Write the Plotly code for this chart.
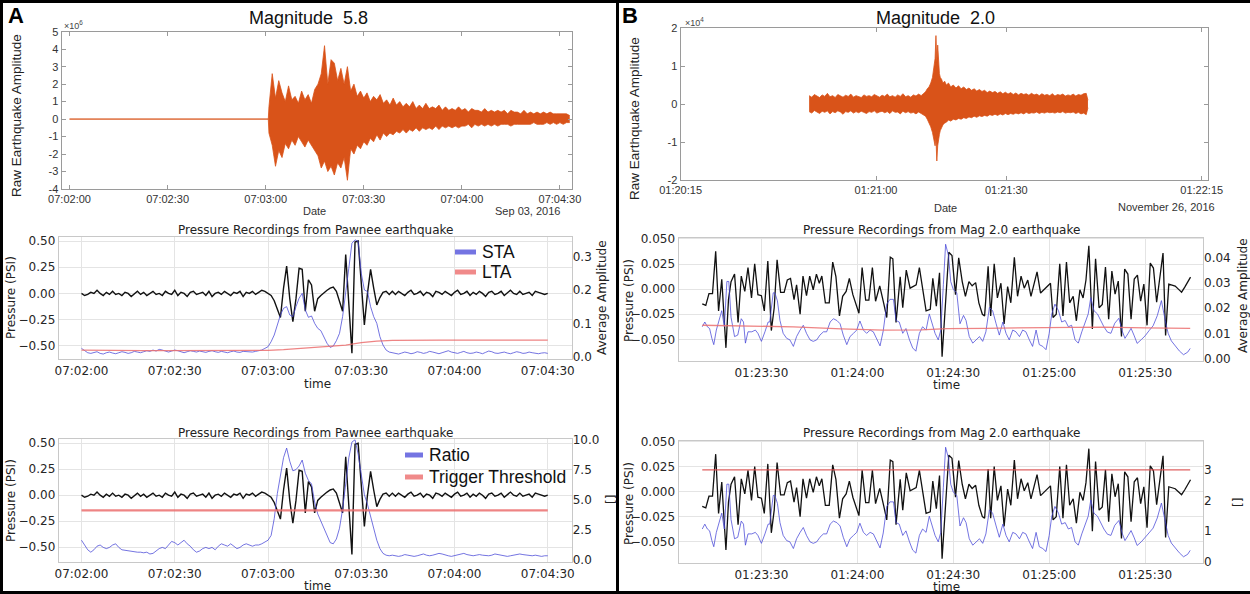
import pandas as pd
import plotly.graph_objects as go

W, H = 1250, 594
def X(px): return px / W
def Y(py): return 1 - py / H

A0 = pd.Timestamp('2016-09-03 07:02:00')
B0 = pd.Timestamp('2016-11-26 01:20:15')
B1 = pd.Timestamp('2016-11-26 01:23:00')

def at(base, secs):
    return [base + pd.Timedelta(seconds=float(s)) for s in secs]

def ds(base, s):
    t = base + pd.Timedelta(seconds=float(s))
    return f"{t:%Y-%m-%d %H:%M:%S}.{t.microsecond // 1000:03d}"

# ---------------- Panel A : Magnitude 5.8 ----------------
# raw seismogram: positive / negative swing per second (x1e6), seconds after 07:02:00
seis_a_sec = [0, 60.8] + list(range(61, 154))
seis_a_up = [0.0, 0.0,
    0.7, 2.6, 1.2, 2.2, 1.5, 1.0, 1.9, 1.1, 1.3, 0.9,
    1.6, 1.1, 1.4, 0.9, 1.7, 2.0, 2.6, 4.2, 2.0, 3.4,
    3.2, 2.2, 2.9, 2.0, 3.0, 1.6, 2.0, 1.3, 1.6, 1.2,
    1.5, 1.0, 1.3, 1.1, 1.4, 0.9, 1.1, 0.8, 1.2, 0.8,
    1.0, 0.7, 0.9, 0.7, 1.0, 0.6, 0.8, 0.6, 0.9, 0.6,
    0.7, 0.6, 0.8, 0.5, 0.7, 0.5, 0.6, 0.5, 0.7, 0.5,
    0.6, 0.4, 0.6, 0.5, 0.5, 0.4, 0.6, 0.4, 0.5, 0.4,
    0.5, 0.4, 0.5, 0.3, 0.5, 0.4, 0.4, 0.3, 0.5, 0.3,
    0.4, 0.3, 0.4, 0.3, 0.4, 0.3, 0.4, 0.3, 0.3, 0.3,
    0.3, 0.3, 0.2]
seis_a_lo = [0.0, 0.0,
    -0.8, -1.5, -2.7, -1.8, -2.2, -1.4, -1.7, -1.2, -1.5, -1.0,
    -1.3, -1.6, -1.2, -1.5, -1.8, -2.1, -2.8, -2.4, -3.0, -2.7,
    -3.2, -2.5, -2.8, -2.2, -3.5, -1.7, -2.0, -1.5, -1.7, -1.3,
    -1.5, -1.1, -1.3, -0.9, -1.2, -0.8, -1.0, -0.8, -0.9, -0.7,
    -0.8, -0.6, -0.8, -0.6, -0.7, -0.5, -0.7, -0.5, -0.6, -0.5,
    -0.6, -0.4, -0.6, -0.4, -0.5, -0.4, -0.5, -0.4, -0.5, -0.4,
    -0.4, -0.3, -0.5, -0.3, -0.4, -0.3, -0.4, -0.3, -0.4, -0.3,
    -0.4, -0.3, -0.3, -0.3, -0.4, -0.3, -0.3, -0.3, -0.3, -0.3,
    -0.3, -0.2, -0.3, -0.3, -0.3, -0.2, -0.3, -0.2, -0.3, -0.2,
    -0.3, -0.2, -0.2]

# pressure (PSI), one sample per second from 07:02:00
press_a = [
    0.00, -0.02, -0.01, 0.01, 0.00, 0.03, 0.00, -0.02, 0.01, -0.01,
    0.02, -0.01, 0.00, -0.02, 0.01, 0.00, -0.03, 0.00, 0.02, -0.01,
    0.01, -0.02, 0.00, 0.02, -0.01, 0.00, -0.02, 0.02, 0.00, -0.01,
    0.03, -0.02, 0.01, 0.00, -0.03, 0.01, 0.02, -0.01, 0.00, 0.01,
    -0.02, 0.02, -0.03, 0.00, 0.01, -0.01, 0.02, 0.00, -0.02, 0.01,
    0.00, 0.02, -0.03, 0.01, 0.00, 0.02, -0.01, 0.01, 0.03, 0.02,
    0.00,
    -0.02, -0.07, -0.15, -0.23, 0.05, 0.26, -0.05, -0.27, -0.05, 0.24,
    0.23, -0.17, 0.13, 0.08, -0.17, -0.05, -0.02, 0.01, 0.03, 0.05,
    0.06, 0.02, -0.08, -0.17, 0.37, -0.10, -0.57, 0.49, 0.50, 0.10,
    -0.30, 0.00, 0.23, 0.05, -0.11, -0.04, 0.01, 0.02, -0.01, 0.02,
    -0.01, 0.02, 0.00, -0.02, 0.01, 0.03, -0.01, 0.00, 0.02, -0.02,
    0.01, 0.00, -0.03, 0.02, 0.01, -0.01, 0.02, 0.00, -0.02, 0.01,
    0.03, -0.01, 0.00, 0.02, -0.02, 0.01, -0.01, 0.02, 0.00, -0.03,
    0.01, 0.02, -0.01, 0.00, 0.02, -0.02, 0.01, 0.03, 0.00, -0.01,
    0.02, -0.01, 0.00, 0.01, -0.02, 0.02, 0.01, 0.00, -0.01, 0.00]

sta_a = [
    0.025, 0.018, 0.012, 0.010, 0.012, 0.015, 0.010, 0.008, 0.012, 0.014,
    0.011, 0.009, 0.012, 0.015, 0.013, 0.010, 0.012, 0.016, 0.014, 0.012,
    0.015, 0.018, 0.016, 0.020, 0.017, 0.022, 0.020, 0.016, 0.014, 0.017,
    0.020, 0.018, 0.014, 0.012, 0.015, 0.018, 0.016, 0.014, 0.017, 0.015,
    0.013, 0.016, 0.018, 0.015, 0.013, 0.016, 0.014, 0.012, 0.015, 0.017,
    0.014, 0.013, 0.016, 0.015, 0.013, 0.014, 0.016, 0.018, 0.020, 0.025,
    0.030, 0.045, 0.065, 0.095, 0.125, 0.145, 0.150, 0.125, 0.120, 0.150,
    0.175, 0.190, 0.140, 0.118, 0.122, 0.100, 0.085, 0.078, 0.060, 0.040,
    0.028, 0.032, 0.048, 0.070, 0.120, 0.200, 0.265, 0.340, 0.350, 0.345,
    0.250, 0.200, 0.195, 0.150, 0.120, 0.100, 0.060, 0.035, 0.020, 0.014,
    0.012,
    0.010, 0.008, 0.011, 0.014, 0.012, 0.009, 0.011, 0.015, 0.013, 0.010,
    0.012, 0.016, 0.014, 0.011, 0.009, 0.012, 0.015, 0.018, 0.014, 0.011,
    0.010, 0.013, 0.016, 0.012, 0.010, 0.011, 0.014, 0.012, 0.009, 0.013,
    0.017, 0.015, 0.011, 0.010, 0.012, 0.014, 0.011, 0.009, 0.012, 0.015,
    0.013, 0.010, 0.011, 0.014, 0.012, 0.010, 0.009, 0.011, 0.012, 0.010]

lta_a_sec = [0, 5, 10, 15, 20, 25, 30, 35, 40, 45, 50, 55, 60, 65, 70, 75, 80,
             85, 90, 95, 100, 105, 110, 115, 120, 125, 130, 135, 140, 145, 150]
lta_a = [0.020, 0.019, 0.018, 0.018, 0.018, 0.018, 0.018, 0.018, 0.018, 0.018,
         0.018, 0.018, 0.019, 0.021, 0.024, 0.027, 0.030, 0.035, 0.042, 0.047,
         0.049, 0.050, 0.050, 0.050, 0.050, 0.050, 0.050, 0.050, 0.050, 0.050, 0.050]

ratio_a = [
    1.6, 1.2, 0.8, 0.6, 0.8, 1.1, 1.2, 1.0, 0.9, 1.0,
    1.2, 1.3, 1.0, 0.8, 0.75, 0.7, 0.65, 0.6, 0.6, 0.6,
    0.55, 0.6, 0.45, 0.5, 0.7, 0.9, 1.0, 0.9, 1.2, 1.5,
    1.4, 1.2, 1.4, 1.6, 1.3, 1.1, 0.8, 0.6, 0.7, 0.9,
    1.0, 0.9, 1.0, 0.8, 1.1, 1.3, 1.2, 1.1, 1.3, 1.1,
    0.9, 1.0, 1.2, 1.3, 1.2, 1.1, 1.2, 1.2, 1.3, 1.45,
    1.6, 2.0, 3.4, 5.5, 7.1, 8.5, 9.3, 8.2, 7.4, 7.5,
    7.8, 8.3, 7.2, 6.6, 6.3, 4.8, 3.8, 3.2, 2.6, 2.0,
    1.4, 1.3, 1.7, 2.6, 4.2, 6.3, 8.5, 9.8, 10.0, 8.8,
    7.0, 5.4, 4.6, 3.6, 2.6, 1.6, 0.9, 0.5, 0.35, 0.3,
    0.35,
    0.3, 0.25, 0.3, 0.4, 0.35, 0.3, 0.25, 0.3, 0.4, 0.45,
    0.35, 0.3, 0.35, 0.4, 0.5, 0.45, 0.35, 0.3, 0.25, 0.3,
    0.35, 0.45, 0.5, 0.4, 0.35, 0.3, 0.35, 0.4, 0.35, 0.3,
    0.3, 0.35, 0.45, 0.4, 0.35, 0.3, 0.25, 0.3, 0.35, 0.4,
    0.45, 0.4, 0.35, 0.3, 0.3, 0.35, 0.3, 0.25, 0.3, 0.3]

thr_a_sec = [0, 150]
thr_a = [4.1, 4.1]

# ---------------- Panel B : Magnitude 2.0 ----------------
# raw seismogram swings (x1e4), seconds after 01:20:15
seis_b_sec = [29.6, 30.2, 30.8, 31.4, 32.0, 32.6, 33.2, 33.8, 34.4, 35.0,
              35.6, 36.2, 36.8, 37.4, 38.0, 38.6, 39.2, 39.8, 40.4, 41.0,
              41.6, 42.2, 42.8, 43.4, 44.0, 44.6, 45.2, 45.8, 46.4, 47.0,
              47.6, 48.2, 48.8, 49.4, 50.0, 50.6, 51.2, 51.8, 52.4, 53.0,
              53.6, 54.2, 54.8, 55.4, 56.0,
              56.4, 56.8, 57.2, 57.6, 58.0, 58.3, 58.6, 58.8, 59.0, 59.2,
              59.4, 59.6, 59.8, 60.1, 60.4, 60.8, 61.2, 61.7, 62.2, 62.8,
              63.4, 64.0, 64.6, 65.2, 65.8, 66.4, 67.0, 67.6, 68.2, 68.8,
              69.4, 70.0, 70.6, 71.2, 71.8, 72.4, 73.0, 73.6, 74.2, 74.8,
              75.4, 76.0, 76.6, 77.2, 77.8, 78.4, 79.0, 79.6, 80.2, 80.8,
              81.4, 82.0, 82.6, 83.2, 83.8, 84.4, 85.0, 85.6, 86.2, 86.8,
              87.4, 88.0, 88.6, 89.2, 89.8, 90.4, 91.0, 91.6, 92.2, 92.8,
              93.4, 93.8]
seis_b_up = [0.22, 0.18, 0.25, 0.20, 0.17, 0.24, 0.20, 0.28, 0.19, 0.22,
             0.17, 0.25, 0.21, 0.18, 0.23, 0.20, 0.26, 0.18, 0.22, 0.20,
             0.17, 0.24, 0.20, 0.22, 0.19, 0.25, 0.21, 0.18, 0.23, 0.20,
             0.26, 0.19, 0.22, 0.18, 0.24, 0.20, 0.27, 0.19, 0.22, 0.18,
             0.24, 0.21, 0.26, 0.22, 0.28,
             0.32, 0.40, 0.45, 0.55, 0.70, 0.95, 1.20, 1.80, 1.10, 1.55,
             0.90, 0.80, 0.70, 0.65, 0.55, 0.60, 0.50, 0.55, 0.45, 0.50,
             0.42, 0.48, 0.40, 0.45, 0.38, 0.42, 0.36, 0.40, 0.34, 0.38,
             0.33, 0.36, 0.30, 0.34, 0.30, 0.33, 0.28, 0.32, 0.27, 0.31,
             0.26, 0.30, 0.25, 0.29, 0.24, 0.28, 0.25, 0.27, 0.23, 0.28,
             0.24, 0.26, 0.22, 0.27, 0.23, 0.25, 0.22, 0.27, 0.21, 0.25,
             0.23, 0.26, 0.21, 0.24, 0.22, 0.26, 0.21, 0.25, 0.23, 0.27,
             0.28, 0.10]
seis_b_lo = [-0.20, -0.24, -0.17, -0.22, -0.25, -0.19, -0.22, -0.18, -0.26, -0.20,
             -0.23, -0.18, -0.21, -0.27, -0.20, -0.22, -0.18, -0.24, -0.20, -0.23,
             -0.19, -0.22, -0.25, -0.20, -0.22, -0.18, -0.24, -0.21, -0.19, -0.23,
             -0.20, -0.25, -0.18, -0.22, -0.21, -0.26, -0.19, -0.23, -0.20, -0.24,
             -0.22, -0.26, -0.21, -0.25, -0.28,
             -0.32, -0.40, -0.50, -0.60, -0.75, -0.90, -1.10, -0.90, -1.50, -1.10,
             -0.90, -0.80, -0.70, -0.60, -0.55, -0.50, -0.48, -0.42, -0.45, -0.40,
             -0.42, -0.38, -0.40, -0.36, -0.38, -0.34, -0.36, -0.32, -0.35, -0.31,
             -0.33, -0.30, -0.32, -0.28, -0.30, -0.27, -0.30, -0.26, -0.29, -0.25,
             -0.28, -0.25, -0.27, -0.24, -0.26, -0.23, -0.26, -0.22, -0.25, -0.23,
             -0.24, -0.21, -0.25, -0.22, -0.24, -0.21, -0.23, -0.22, -0.24, -0.21,
             -0.23, -0.20, -0.24, -0.22, -0.23, -0.21, -0.25, -0.22, -0.26, -0.24,
             -0.28, -0.10]

# pressure (PSI), seconds after 01:23:00
press_b_sec = [
    11.5, 12.6, 13.6, 14.7, 15.7, 16.6, 17.6, 18.9, 19.7, 20.5,
    21.6, 22.7, 23.7, 24.8, 25.8, 26.9, 27.9, 28.9, 30.0, 30.9,
    32.0, 33.1, 34.0, 34.9, 36.0, 37.1, 38.1, 39.1, 40.2, 41.0,
    42.1, 43.0, 44.1, 45.1, 46.2, 47.2, 48.1, 48.9, 50.0, 51.2,
    52.3, 53.3, 54.4, 55.4, 56.5, 57.5, 58.6, 59.6, 60.5, 61.5,
    62.6, 63.6, 64.7, 65.7, 67.0, 68.3, 69.2, 70.3, 71.1, 72.1,
    73.4, 74.2, 75.3, 76.5, 77.5, 78.4, 79.4, 80.5, 81.5, 82.8,
    83.6, 84.7, 85.7, 86.5, 87.5, 88.6, 89.6, 90.7, 91.7, 92.8,
    93.8, 94.9, 95.9, 97.0, 98.0, 99.1, 99.8, 100.9, 101.7, 102.8,
    103.8, 104.9, 105.9, 107.0, 108.0, 109.1, 110.1, 111.2, 112.2, 113.3,
    114.3, 115.4, 116.2, 117.3, 118.3, 119.4, 120.4, 121.2, 122.2, 123.3,
    124.3, 125.4, 126.4, 127.5, 128.5, 129.6, 130.6, 131.5, 132.4, 133.5,
    134.5, 135.6, 136.6, 137.6, 138.6, 139.6, 140.6, 141.6, 142.6, 143.6,
    144.6, 145.6, 146.6, 147.6, 148.6, 149.6, 150.6, 151.6, 152.6, 153.6,
    154.6, 155.6, 156.4, 157.4, 158.4, 159.4, 160.4, 161.4, 162.4, 163.4,
    164.2]
press_b = [
    -0.0146, -0.0162, -0.0045, -0.0045, 0.0377, -0.0217, 0.0097, -0.0584, -0.0104, 0.0075,
    0.0150, -0.0331, 0.0130, -0.0022, 0.0215, -0.0087, 0.0253, -0.0055, -0.0065, -0.0217,
    0.0279, -0.0412, -0.0185, 0.0292, -0.0032, -0.0032, 0.0091, 0.0107, -0.0104, 0.0042,
    -0.0250, 0.0130, -0.0065, 0.0130, -0.0006, 0.0150, 0.0059, 0.0130, -0.0136, -0.0136,
    0.0270, 0.0124, -0.0266, -0.0071, -0.0022, 0.0107, -0.0055, -0.0152, -0.0240, 0.0215,
    -0.0110, -0.0110, 0.0215, -0.0120, 0.0033, -0.0150, -0.0282, 0.0318, 0.0302, -0.0331,
    0.0124, -0.0185, 0.0189, 0.0010, 0.0026, 0.0042, 0.0215, 0.0010, -0.0217, -0.0201,
    0.0107, -0.0169, 0.0162, -0.0672, -0.0136, 0.0367, 0.0335, -0.0055, 0.0312, 0.0075,
    -0.0071, 0.0075, 0.0033, 0.0065, -0.0136, -0.0250, -0.0266, 0.0227, -0.0266, 0.0253,
    -0.0087, 0.0059, -0.0347, 0.0026, -0.0136, 0.0318, -0.0071, 0.0130, 0.0010, 0.0091,
    -0.0071, 0.0059, 0.0172, -0.0039, -0.0006, 0.0026, 0.0059, -0.0282, -0.0250, 0.0253,
    -0.0266, 0.0270, -0.0136, -0.0071, -0.0315, -0.0006, -0.0087, 0.0091, 0.0432, -0.0396,
    0.0302, -0.0185, -0.0152, 0.0221, -0.030, 0.018, -0.005, 0.008, -0.047, 0.020,
    0.015, -0.030, 0.010, 0.014, -0.012, 0.005, -0.036, 0.026, 0.021, -0.013,
    0.012, 0.036, -0.046, 0.005, 0.004, 0.003, 0.000, -0.003, 0.002, 0.007,
    0.012]

sta_b_sec = [
    11.5, 12.3, 13.1, 13.8, 14.5, 15.1, 15.9, 16.9, 17.6, 18.4,
    19.2, 19.8, 20.5, 21.6, 22.6, 23.7, 24.4, 25.0, 25.8, 27.0,
    28.1, 28.9, 30.0, 31.1, 32.1, 32.6, 33.7, 34.2, 35.0, 35.8,
    36.8, 37.9, 38.9, 40.0, 41.0, 42.1, 43.1, 44.1, 45.2, 46.2,
    47.3, 48.3, 49.4, 50.4, 51.5, 52.5, 53.6, 54.6, 55.6, 56.7,
    57.7, 58.8, 59.8, 60.8, 61.9, 62.9, 64.0, 65.0, 66.1, 67.1,
    68.1, 69.2, 70.2, 71.3, 72.1, 73.1, 74.2, 75.2, 76.3, 77.3,
    78.3, 79.4, 80.4, 81.5, 82.5, 83.2, 84.3, 85.3, 86.1, 86.9,
    87.6, 88.5, 89.2, 90.0, 91.1, 92.1, 93.2, 94.0, 95.0, 96.1,
    97.1, 98.2, 99.2, 100.2, 101.3, 102.3, 103.4, 104.4, 105.5, 106.5,
    107.5, 108.6, 109.6, 110.7, 111.7, 112.7, 113.8, 114.8, 115.9, 116.9,
    118.0, 119.0, 120.0, 120.8, 121.8, 122.9, 123.9, 125.0, 126.0, 127.0,
    128.1, 129.1, 130.2, 131.2, 132.2, 133.0, 134.0, 135.1, 136.1, 137.1,
    138.2, 139.3, 140.5, 141.8, 142.8, 143.7, 144.7, 145.6, 146.6, 147.5,
    148.8, 150.0, 151.2, 152.5, 153.8, 155.1, 156.3, 157.2, 158.2, 159.4,
    160.7, 162.0, 163.3, 164.1]
sta_b = [
    0.0126, 0.0145, 0.0126, 0.0119, 0.0080, 0.0055, 0.0113, 0.0164, 0.0190, 0.0126,
    0.0306, 0.0306, 0.0164, 0.0087, 0.0093, 0.0158, 0.0145, 0.0061, 0.0106, 0.0106,
    0.0113, 0.0100, 0.0068, 0.0106, 0.0145, 0.0145, 0.0261, 0.0261, 0.0229, 0.0151,
    0.0100, 0.0080, 0.0074, 0.0048, 0.0087, 0.0113, 0.0132, 0.0100, 0.0074, 0.0068,
    0.0074, 0.0093, 0.0106, 0.0106, 0.0145, 0.0158, 0.0151, 0.0138, 0.0093, 0.0055,
    0.0087, 0.0100, 0.0113, 0.0149, 0.0113, 0.0100, 0.0113, 0.0106, 0.0074, 0.0050,
    0.0110, 0.0216, 0.0235, 0.0235, 0.0151, 0.0145, 0.0100, 0.0119, 0.0074, 0.0042,
    0.0029, 0.0100, 0.0126, 0.0113, 0.0177, 0.0145, 0.0100, 0.0074, 0.0113, 0.0293,
    0.0454, 0.0409, 0.0306, 0.0274, 0.0261, 0.0138, 0.0171, 0.0151, 0.0087, 0.0061,
    0.0074, 0.0087, 0.0068, 0.0106, 0.0203, 0.0190, 0.0138, 0.0093, 0.0145, 0.0100,
    0.0074, 0.0113, 0.0106, 0.0087, 0.0113, 0.0106, 0.0074, 0.0048, 0.0113, 0.0055,
    0.0048, 0.0035, 0.0100, 0.0177, 0.0216, 0.0190, 0.0145, 0.0151, 0.0126, 0.0132,
    0.0074, 0.0061, 0.0106, 0.0145, 0.0177, 0.0242, 0.0190, 0.0177, 0.0151, 0.0126,
    0.0105, 0.0100, 0.0140, 0.0160, 0.0110, 0.0080, 0.0100, 0.0120, 0.0090, 0.0060,
    0.0075, 0.0090, 0.0110, 0.0130, 0.0170, 0.0230, 0.0150, 0.0100, 0.0070, 0.0050,
    0.0030, 0.0015, 0.0025, 0.0040]
ratio_b = [
    1.06, 1.22, 1.06, 1.00, 0.68, 0.48, 0.95, 1.37, 1.58, 1.06,
    2.53, 2.53, 1.37, 0.74, 0.79, 1.32, 1.22, 0.53, 0.90, 0.90,
    0.95, 0.85, 0.59, 0.90, 1.22, 1.22, 2.16, 2.16, 1.90, 1.27,
    0.85, 0.68, 0.64, 0.42, 0.74, 0.95, 1.11, 0.85, 0.64, 0.59,
    0.64, 0.79, 0.90, 0.90, 1.22, 1.32, 1.27, 1.16, 0.79, 0.48,
    0.74, 0.85, 0.95, 1.25, 0.95, 0.85, 0.95, 0.90, 0.64, 0.44,
    0.93, 1.80, 1.95, 1.95, 1.27, 1.22, 0.85, 1.00, 0.64, 0.37,
    0.27, 0.85, 1.06, 0.95, 1.48, 1.22, 0.85, 0.64, 0.95, 2.43,
    3.74, 3.38, 2.53, 2.27, 2.16, 1.16, 1.43, 1.27, 0.74, 0.53,
    0.64, 0.74, 0.59, 0.90, 1.69, 1.58, 1.16, 0.79, 1.22, 0.85,
    0.64, 0.95, 0.90, 0.74, 0.95, 0.90, 0.64, 0.42, 0.95, 0.48,
    0.42, 0.32, 0.85, 1.48, 1.80, 1.58, 1.22, 1.27, 1.06, 1.11,
    0.64, 0.53, 0.90, 1.22, 1.48, 2.01, 1.58, 1.48, 1.27, 1.06,
    0.89, 0.85, 1.18, 1.34, 0.93, 0.68, 0.85, 1.01, 0.77, 0.52,
    0.64, 0.77, 0.93, 1.09, 1.42, 1.91, 1.26, 0.85, 0.60, 0.44,
    0.28, 0.15, 0.23, 0.36]

lta_b_sec = [11.5, 25, 40, 55, 68, 80, 88, 100, 110, 125, 137, 150, 164.1]
lta_b = [0.0132, 0.0130, 0.0126, 0.0118, 0.0113, 0.0114, 0.0119, 0.0120,
         0.0122, 0.0124, 0.0125, 0.0122, 0.0120]

thr_b_sec = [11.5, 164.1]
thr_b = [3.0, 3.0]

# ---------------- figure ----------------
ORANGE = '#D95319'
BLUE = 'rgba(70,70,215,0.75)'
RED = 'rgba(235,110,110,0.85)'
BLACK = '#111111'

fig = go.Figure()

def add(x, y, xa, ya, color, width, **kw):
    n = min(len(x), len(y))
    fig.add_trace(go.Scatter(x=x[:n], y=y[:n], xaxis=xa, yaxis=ya, mode='lines',
                             line=dict(color=color, width=width),
                             hoverinfo='skip', showlegend=False, **kw))

# A top: band between positive and negative swings
ta = at(A0, seis_a_sec)
add(ta, seis_a_up, 'x', 'y', ORANGE, 0.8)
add(ta, seis_a_lo, 'x', 'y', ORANGE, 0.8, fill='tonexty', fillcolor=ORANGE)
# A middle
add(at(A0, range(len(press_a))), press_a, 'x2', 'y2', BLACK, 1.4)
add(at(A0, range(len(sta_a))), sta_a, 'x2', 'y3', BLUE, 1)
add(at(A0, lta_a_sec), lta_a, 'x2', 'y3', RED, 1.3)
# A bottom
add(at(A0, range(len(press_a))), press_a, 'x3', 'y4', BLACK, 1.4)
add(at(A0, range(len(ratio_a))), ratio_a, 'x3', 'y5', BLUE, 1)
add(at(A0, thr_a_sec), thr_a, 'x3', 'y5', RED, 2.2)
# B top
tb = at(B0, seis_b_sec)
add(tb, seis_b_up, 'x4', 'y6', ORANGE, 0.8)
add(tb, seis_b_lo, 'x4', 'y6', ORANGE, 0.8, fill='tonexty', fillcolor=ORANGE)
# B middle
add(at(B1, press_b_sec), press_b, 'x5', 'y7', BLACK, 1.3)
add(at(B1, sta_b_sec), sta_b, 'x5', 'y8', BLUE, 1)
add(at(B1, lta_b_sec), lta_b, 'x5', 'y8', RED, 1.3)
# B bottom
add(at(B1, press_b_sec), press_b, 'x6', 'y9', BLACK, 1.3)
add(at(B1, sta_b_sec), ratio_b, 'x6', 'y10', BLUE, 1)
add(at(B1, thr_b_sec), thr_b, 'x6', 'y10', 'rgba(220,80,80,0.9)', 1.2)

MATF = dict(family='Liberation Sans, Arial', size=11, color='#333333')
NARF = dict(family='Liberation Sans Narrow, Liberation Sans, Arial', size=11, color='#333333')
MPLF = dict(family='DejaVu Sans', size=12, color='#262626')

mat = dict(showline=True, linecolor='#9a9a9a', linewidth=1, mirror='ticks', ticks='inside',
           ticklen=4, tickcolor='#9a9a9a', showgrid=False, zeroline=False, tickfont=MATF,
           automargin=False)
mplx = dict(type='date', showline=True, linecolor='#c8c8c8', linewidth=1.2, mirror=True,
            ticks='', showgrid=True, gridcolor='#e4e4e4', gridwidth=1, zeroline=False,
            tickfont=MPLF, automargin=False)
mply = dict(showline=True, linecolor='#c8c8c8', linewidth=1.2, mirror=True, ticks='',
            showgrid=True, gridcolor='#e4e4e4', gridwidth=1, zeroline=False, tickfont=MPLF,
            automargin=False)
mplr = dict(showline=False, ticks='', showgrid=False, zeroline=False, tickfont=MPLF, side='right',
            automargin=False)

a_ticks = [0, 30, 60, 90, 120, 150]
a_lab = ['07:02:00', '07:02:30', '07:03:00', '07:03:30', '07:04:00', '07:04:30']
b_top_ticks = [0, 45, 75, 120]
b_top_lab = ['01:20:15', '01:21:00', '01:21:30', '01:22:15']
b_ticks = [30, 60, 90, 120, 150]
b_lab = ['01:23:30', '01:24:00', '01:24:30', '01:25:00', '01:25:30']

layout = dict(
    width=W, height=H, margin=dict(l=0, r=0, t=0, b=0, pad=0), autosize=False,
    paper_bgcolor='white', plot_bgcolor='white', showlegend=False,
    # A top
    xaxis=dict(mat, type='date', domain=[X(61.5), X(571.7)], anchor='y',
               range=[ds(A0, -2.45), ds(A0, 153.6)],
               tickvals=[ds(A0, s) for s in a_ticks], ticktext=a_lab),
    yaxis=dict(mat, domain=[Y(189), Y(31.7)], anchor='x', range=[-4, 5],
               tickvals=list(range(-4, 6)), ticktext=[str(v) for v in range(-4, 6)]),
    # A middle
    xaxis2=dict(mplx, domain=[X(58.8), X(571.7)], anchor='y2',
                range=[ds(A0, -7.3), ds(A0, 157.7)],
                tickvals=[ds(A0, s) for s in a_ticks], ticktext=a_lab),
    yaxis2=dict(mply, domain=[Y(359), Y(236.7)], anchor='x2', range=[-0.626, 0.541],
                tickvals=[-0.5, -0.25, 0, 0.25, 0.5], tickformat='.2f'),
    yaxis3=dict(mplr, overlaying='y2', anchor='x2', range=[-0.0068, 0.3594],
                tickvals=[0, 0.1, 0.2, 0.3], tickformat='.1f'),
    # A bottom
    xaxis3=dict(mplx, domain=[X(58.8), X(571.7)], anchor='y4',
                range=[ds(A0, -7.3), ds(A0, 157.7)],
                tickvals=[ds(A0, s) for s in a_ticks], ticktext=a_lab),
    yaxis4=dict(mply, domain=[Y(562), Y(439.3)], anchor='x3', range=[-0.643, 0.538],
                tickvals=[-0.5, -0.25, 0, 0.25, 0.5], tickformat='.2f'),
    yaxis5=dict(mplr, overlaying='y4', anchor='x3', range=[-0.22, 10.034],
                tickvals=[0, 2.5, 5, 7.5, 10], tickformat='.1f'),
    # B top
    xaxis4=dict(mat, type='date', domain=[X(680.6), X(1207.8)], anchor='y6',
                range=[ds(B0, 0), ds(B0, 121.4)],
                tickvals=[ds(B0, s) for s in b_top_ticks], ticktext=b_top_lab, tickfont=NARF),
    yaxis6=dict(mat, domain=[Y(180), Y(28)], anchor='x4', range=[-2, 2],
                tickvals=[-2, -1, 0, 1, 2], ticktext=['-2', '-1', '0', '1', '2'], tickfont=NARF),
    # B middle
    xaxis5=dict(mplx, domain=[X(678.6), X(1203)], anchor='y7',
                range=[ds(B1, 4.1), ds(B1, 168.1)],
                tickvals=[ds(B1, s) for s in b_ticks], ticktext=b_lab),
    yaxis7=dict(mply, domain=[Y(361), Y(237.7)], anchor='x5', range=[-0.0715, 0.0512],
                tickvals=[-0.05, -0.025, 0, 0.025, 0.05], tickformat='.3f'),
    yaxis8=dict(mplr, overlaying='y7', anchor='x5', range=[-0.001, 0.048],
                tickvals=[0, 0.01, 0.02, 0.03, 0.04], tickformat='.2f'),
    # B bottom
    xaxis6=dict(mplx, domain=[X(678.6), X(1203)], anchor='y9',
                range=[ds(B1, 4.1), ds(B1, 168.1)],
                tickvals=[ds(B1, s) for s in b_ticks], ticktext=b_lab),
    yaxis9=dict(mply, domain=[Y(563), Y(440.7)], anchor='x6', range=[-0.0715, 0.0512],
                tickvals=[-0.05, -0.025, 0, 0.025, 0.05], tickformat='.3f'),
    yaxis10=dict(mplr, overlaying='y9', anchor='x6', range=[-0.054, 3.955],
                 tickvals=[0, 1, 2, 3], tickformat='d'),
)
fig.update_layout(**layout)

def txt(s, x, y, size, fam='DejaVu Sans', color='#222222', angle=0, xa='center', ya='middle'):
    return dict(text=s, x=X(x), y=Y(y), xref='paper', yref='paper', showarrow=False,
                font=dict(family=fam, size=size, color=color), textangle=angle,
                xanchor=xa, yanchor=ya)

LIB = 'Liberation Sans, Arial'
NAR = 'Liberation Sans Narrow, Liberation Sans, Arial'
anns = [
    txt('<b>A</b>', 16, 15, 22, LIB, '#000'),
    txt('<b>B</b>', 630, 15, 22, LIB, '#000'),
    txt('Magnitude  5.8', 308, 18, 18, LIB, '#111'),
    txt('Magnitude  2.0', 935, 18, 18, LIB, '#111'),
    txt('×10<sup>6</sup>', 62, 25, 9, LIB, '#444', xa='left'),
    txt('×10<sup>4</sup>', 683, 22, 9, LIB, '#444', xa='left'),
    txt('Raw Earthquake Amplitude', 16, 116, 13.5, LIB, '#222', angle=-90),
    txt('Raw Earthquake Amplitude', 634, 119, 13.5, NAR, '#222', angle=-90),
    txt('Date', 314, 211, 11, LIB, '#333'),
    txt('Sep 03, 2016', 527, 211, 11, LIB, '#333'),
    txt('Date', 945, 208, 11, NAR, '#333'),
    txt('November 26, 2016', 1166, 207, 11, NAR, '#333'),
    # matplotlib panels
    txt('Pressure Recordings from Pawnee earthquake', 315, 230, 12),
    txt('Pressure Recordings from Pawnee earthquake', 315, 433, 12),
    txt('Pressure Recordings from Mag 2.0 earthquake', 941, 230, 12),
    txt('Pressure Recordings from Mag 2.0 earthquake', 941, 433, 12),
    txt('time', 317, 384, 12), txt('time', 317, 586, 12),
    txt('time', 946, 385, 12), txt('time', 946, 587, 12),
    txt('Pressure (PSI)', 11, 298, 12, angle=-90),
    txt('Pressure (PSI)', 11, 501, 12, angle=-90),
    txt('Pressure (PSI)', 629, 301, 12, angle=-90),
    txt('Pressure (PSI)', 629, 504, 12, angle=-90),
    txt('Average Amplitude', 602, 298, 12, angle=-90),
    txt('Average Amplitude', 1243, 296, 12, angle=-90),
    txt('[]', 611, 500, 12, angle=-90),
    txt('[]', 1238, 503, 12, angle=-90),
    # legends
    txt('STA', 480, 252, 17.5, LIB, '#111', xa='left'),
    txt('LTA', 480, 272, 17.5, LIB, '#111', xa='left'),
    txt('Ratio', 427, 455, 17.5, LIB, '#111', xa='left'),
    txt('Trigger Threshold', 427, 477, 17.5, LIB, '#111', xa='left'),
]

def hline(x0, x1, y, color, width):
    return dict(type='line', xref='paper', yref='paper', x0=X(x0), x1=X(x1), y0=Y(y), y1=Y(y),
                line=dict(color=color, width=width))

def seg(x0, y0, x1, y1, width=3):
    return dict(type='line', xref='paper', yref='paper', x0=X(x0), x1=X(x1), y0=Y(y0), y1=Y(y1),
                line=dict(color='black', width=width))

shapes = [
    hline(455, 476, 252, '#7474e2', 5),
    hline(455, 476, 272, '#f08a8a', 5),
    hline(405, 423, 455, '#7474e2', 5),
    hline(405, 423, 477, '#f08a8a', 5),
    seg(0, 1.5, 1250, 1.5),
    seg(0, 592.5, 1250, 592.5),
    seg(1.5, 0, 1.5, 594),
    seg(617.5, 0, 617.5, 594),
]
fig.update_layout(annotations=anns, shapes=shapes)

fig.write_html('out.html', config={'displayModeBar': False},
               post_script="document.body.style.margin='0';document.body.style.overflow='hidden';")
